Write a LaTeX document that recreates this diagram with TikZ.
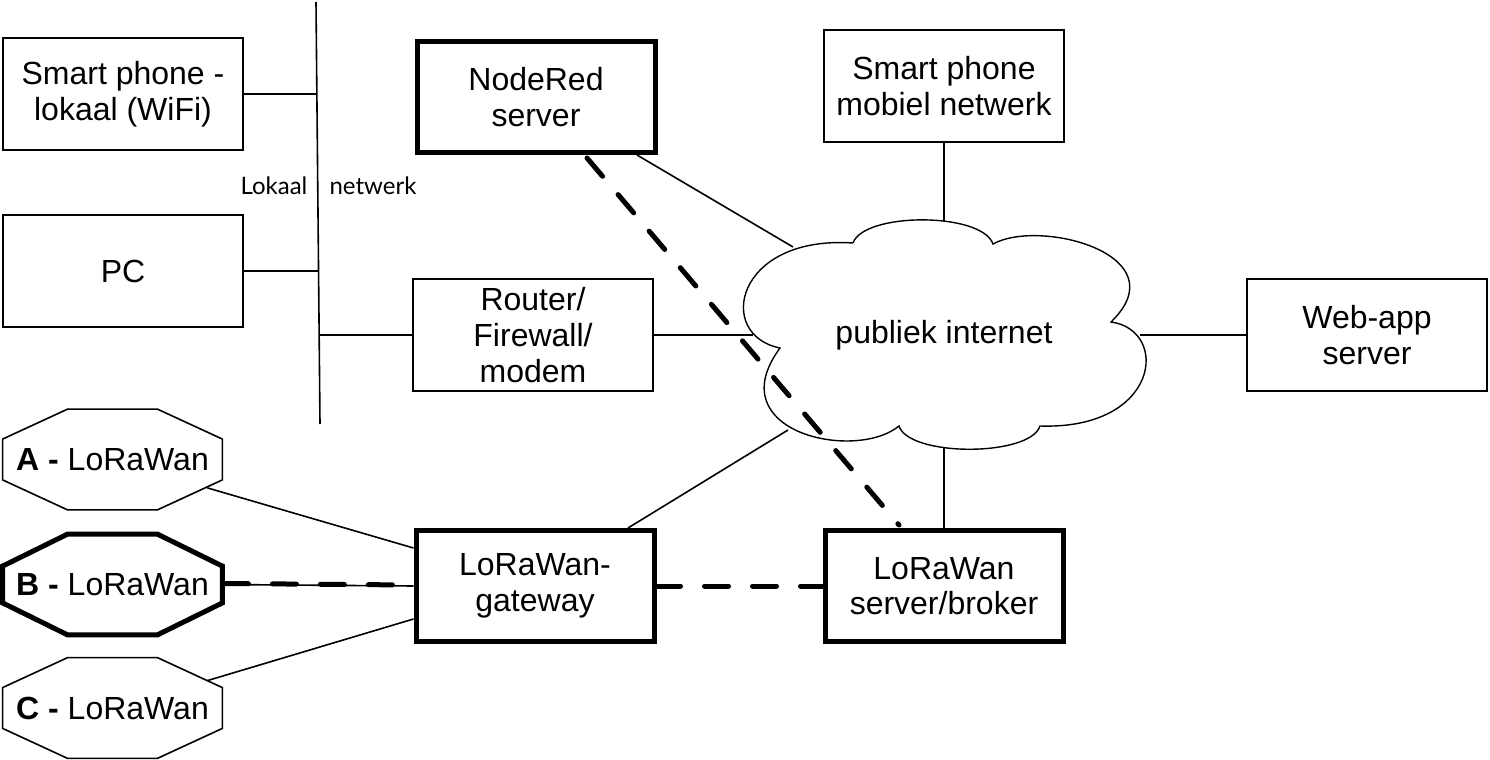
\documentclass[tikz,border=0pt]{standalone}
\usepackage{fontspec}
\setmainfont{Liberation Sans}
\newfontfamily\gillfont{Lato}
\usetikzlibrary{calc}
\newcommand\mainsize{\fontsize{16pt}{17.8pt}\selectfont}
\newcommand\myocta[3]{%
  \draw[#2] ($(#1.north west)+(65,0)$) -- ($(#1.north east)+(-65,0)$)
    -- ($(#1.north east)+(0,#3)$) -- ($(#1.south east)+(0,-#3)$)
    -- ($(#1.south east)+(-65,0)$) -- ($(#1.south west)+(65,0)$)
    -- ($(#1.south west)+(0,-#3)$) -- ($(#1.north west)+(0,#3)$) -- cycle;}
\begin{document}
\begin{tikzpicture}[x=0.5pt,y=-0.5pt,
  tbox/.style={draw, line width=0.8pt, minimum width=120pt, minimum height=56pt,
    inner sep=0pt, align=center, font=\mainsize},
  kbox/.style={tbox, line width=2.5pt, minimum width=119pt, minimum height=55.5pt},
  octa/.style={draw=none, minimum width=109.5pt, minimum height=50pt, inner sep=0pt,
    font=\mainsize},
  inet/.style={draw=none, inner sep=0pt, font=\mainsize},
  lbl/.style={inner sep=0pt, font=\gillfont\fontsize{12pt}{14pt}\selectfont},
  conn/.style={line width=0.8pt},
  thickdash/.style={line width=2.5pt, dash pattern=on 12pt off 12pt, line cap=round},
  cloudline/.style={line width=0.7pt, fill=white}
]
\useasboundingbox (0,0) rectangle (1490,760);

% cloud outline
\draw[cloudline] (853,243) .. controls (864,212) and (982,212) .. (993,244)
  .. controls (1040,218) and (1180,255) .. (1111,322)
  .. controls (1170,330) and (1160,430) .. (1040,426)
  .. controls (1030,457) and (909,457) .. (899,426)
  .. controls (855,462) and (718,432) .. (780,348)
  .. controls (715,335) and (735,235) .. (853,243);

% nodes
\node[tbox] (sphl) at (123,94) {Smart phone -\\lokaal (WiFi)};
\node[tbox] (pc) at (123,271) {PC};
\node[kbox] (nr) at (536,97) {NodeRed\\server};
\node[tbox] (mob) at (944,86) {Smart phone\\mobiel netwerk};
\node[tbox] (rt) at (533,335) {Router/\\Firewall/\\modem};
\node[tbox] (web) at (1367,335) {Web-app\\server};
\node[kbox] (gw) at (535,586) {LoRaWan-\\gateway};
\node[kbox] (srv) at (944,586) {LoRaWan\\server/broker};
\node[inet] (cloud) at (944,335) {publiek internet};

\node[octa] (A) at (112.5,459.5) {\textbf{A -} LoRaWan};
\node[octa] (B) at (112.5,584.5) {\textbf{B -} LoRaWan};
\node[octa] (C) at (112.5,708) {\textbf{C -} LoRaWan};
\myocta{A}{line width=0.8pt}{30}
\myocta{B}{line width=2.5pt}{32}
\myocta{C}{line width=0.8pt}{30}

% cloud connection points
\coordinate (cN) at (944,221);
\coordinate (cNW) at (793,247);
\coordinate (cW) at (753,335);
\coordinate (cE) at (1140,335);
\coordinate (cS) at (944,448);
\coordinate (cSW) at (788,430);

% local network bus
\coordinate (busT) at (316,2);
\coordinate (busB) at (320,424);
\draw[conn] (busT) -- (busB);
\node[lbl] (lk) at (274,186) {Lokaal};
\node[lbl] (nw) at (373,186) {netwerk};
\draw[conn] (sphl.east) -- (sphl.east -| busT);
\draw[conn] (pc.east) -- ($(pc.east -| busT)+(2,0)$);
\draw[conn] ($(rt.west -| busB)+(-1,0)$) -- (rt.west);

% connections to cloud
\draw[conn] ($(nr.south)+(101,0)$) -- (cNW);
\draw[conn] (mob.south) -- (cN);
\draw[conn] (rt.east) -- (cW);
\draw[conn] (cE) -- (web.west);
\draw[conn] ($(gw.north)+(93,0)$) -- (cSW);
\draw[conn] (srv.north) -- (cS);

% LoRa links
\draw[conn] ($(A.south east)+(-15,-22)$) -- ($(gw.west)+(0,-38)$);
\draw[conn] ($(C.north east)+(-15,23)$) -- ($(gw.west)+(0,33)$);
\draw[conn] (B.east) -- (gw.west);
\draw[thickdash] ($(B.east)+(2,-1)$) -- ($(gw.west)+(-2,-1)$);
\draw[thickdash] (gw.east) -- (srv.west);
\draw[thickdash] ($(nr.south)+(51,3)$) -- ($(srv.north)+(-45,-3)$);
\end{tikzpicture}
\end{document}
